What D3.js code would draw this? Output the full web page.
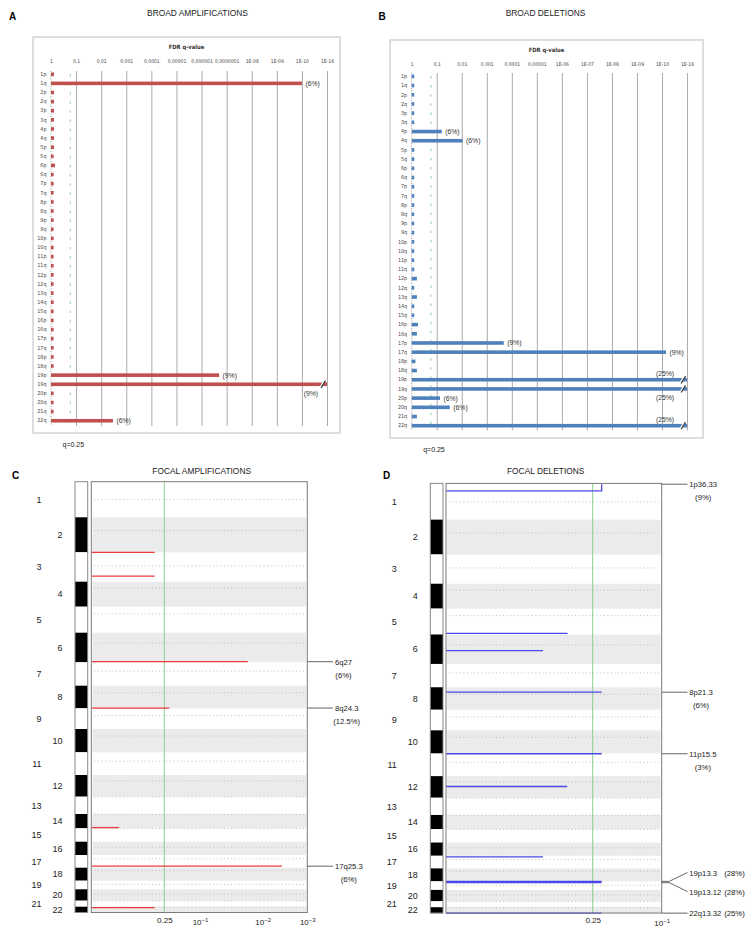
<!DOCTYPE html>
<html><head><meta charset="utf-8">
<script src="https://cdn.jsdelivr.net/npm/d3@7"></script>
<style>body{margin:0;background:#fff} svg{display:block}</style>
</head><body>
<svg id="c" width="754" height="935"></svg>
<script>
// ---------------- DATA ----------------
const armLabels = ["1p","1q","2p","2q","3p","3q","4p","4q","5p","5q","6p","6q","7p","7q","8p","8q","9p","9q","10p","10q","11p","11q","12p","12q","13q","14q","15q","16p","16q","17p","17q","18p","18q","19p","19q","20p","20q","21q","22q"];
const qTickNegLog = [0,1,2,3,4,5,6,7,8,9,10,16];
const ampTickLabels = ["1","0,1","0,01","0,001","0,0001","0,00001","0,000001","0,0000001","1E-08","1E-09","1E-10","1E-16"];
const delTickLabels = ["1","0,1","0,01","0,001","0,0001","0,00001","1E-06","1E-07","1E-08","1E-09","1E-10","1E-16"];
// broad amplification FDR q-values (per arm)
const broadAmpQ = [0.76,1e-10,0.76,0.76,0.76,0.76,0.76,0.76,0.76,0.79,0.69,0.79,0.79,0.79,0.79,0.79,0.79,0.79,0.79,0.79,0.79,0.79,0.79,0.79,0.79,0.79,0.79,0.79,0.79,0.79,0.79,0.79,0.79,2e-7,1e-25,0.79,0.79,0.79,0.0034];
const broadAmpPct = ["","(6%)","","","","","","","","","","","","","","","","","","","","","","","","","","","","","","","","(9%)","(9%)","","","","(6%)"];
// broad deletion FDR q-values (per arm)
const broadDelQ = [0.79,0.79,0.79,0.79,0.79,0.79,0.063,0.0093,0.79,0.79,0.79,0.79,0.79,0.79,0.79,0.79,0.79,0.79,0.79,0.79,0.79,0.79,0.62,0.79,0.62,0.79,0.79,0.56,0.62,2.1e-4,1.1e-11,0.71,0.62,1e-25,1e-25,0.074,0.03,0.62,1e-25];
const broadDelPct = ["","","","","","","(6%)","(6%)","","","","","","","","","","","","","","","","","","","","","","(9%)","(9%)","","","(25%)","(25%)","(6%)","(6%)","","(25%)"];
const qCutoffLabel = "q=0.25";
const qCutoffLine = 0.17; // position of the dashed cutoff as drawn in the source

// focal panels
const chromosomes = d3.range(1,23);
const chromSpan = [356,350,294,250,260,296,234,226,207,233,227,217,173,143,134,133,127,130,86,114,60,60];
const centromereFrac = [0.50,0.38,0.46,0.26,0.27,0.35,0.38,0.31,0.35,0.30,0.39,0.27,0.02,0.02,0.02,0.40,0.30,0.22,0.45,0.44,0.05,0.05];
const focalThresholdQ = 0.25;
const focalAmpTickQ = [0.25,0.1,0.01,0.001];
const focalDelTickQ = [0.25,0.1];
// focal amplification peaks
const ampChr   = [3,3,6,8,14,17,22];
const ampPos   = [0.0,0.81,0.98,0.99,0.95,0.88,0.17];
const ampQ     = [0.30,0.30,0.0173,0.22,0.59,0.0037,0.30];
const ampLabel = ["","","6q27","8q24.3","","17q25.3",""];
const ampPct   = ["","","(6%)","(12.5%)","","(6%)",""];
// focal deletion peaks
const delChr    = [1,5,6,8,11,12,17,19,19,22];
const delPos    = [0.0,0.96,0.55,0.22,0.01,0.48,0.08,0.0,0.16,0.99];
const delPosEnd = [0.19,0.96,0.55,0.22,0.01,0.48,0.08,0.0,0.16,0.99];
const delQ      = [0.222,0.317,0.40,0.222,0.222,0.318,0.40,0.222,0.222,0.222];
const delLabel  = ["1p36.33","","","8p21.3","11p15.5","","","19p13.3","19p13.12","22q13.32"];
const delPct    = ["(9%)","","","(6%)","(3%)","","","(28%)","(28%)","(25%)"];

// ---------------- DRAW ----------------
const svg = d3.select("#c");
const SANS = "'Liberation Sans', Arial, Helvetica, sans-serif";
const NARROW = "'DejaVu Sans Condensed','Liberation Sans Narrow','Arial Narrow',sans-serif";

function txt(g, x, y, s, size, opts={}) {
  return g.append("text").attr("x",x).attr("y",y).attr("font-family",opts.family||SANS)
    .attr("font-size",size).attr("font-weight",opts.weight||"normal")
    .attr("text-anchor",opts.anchor||"start").attr("fill",opts.fill||"#222").text(s);
}

// panel letters & titles
txt(svg,9,19.5,"A",10,{weight:"bold",fill:"#000"});
txt(svg,378.5,19.5,"B",10,{weight:"bold",fill:"#000"});
txt(svg,12,478.5,"C",10,{weight:"bold",fill:"#000"});
txt(svg,383,478.5,"D",10,{weight:"bold",fill:"#000"});
txt(svg,197.5,16,"BROAD AMPLIFICATIONS",8.4,{anchor:"middle"});
txt(svg,545.5,16,"BROAD DELETIONS",8.4,{anchor:"middle"});
txt(svg,201.7,474,"FOCAL AMPLIFICATIONS",8.4,{anchor:"middle"});
txt(svg,545.7,474.3,"FOCAL DELETIONS",8.4,{anchor:"middle"});

function broadPanel(p) {
  const g = svg.append("g");
  g.append("rect").attr("x",p.box[0]).attr("y",p.box[1]).attr("width",p.box[2]-p.box[0]).attr("height",p.box[3]-p.box[1])
    .attr("fill","#fff").attr("stroke","#d6d6d6").attr("stroke-width",1.6);
  const x = d3.scaleLinear().domain(qTickNegLog).range(qTickNegLog.map((d,i)=>p.x0+i*p.step)).clamp(true);
  const y = d3.scaleBand().domain(armLabels).range([p.rowTop,p.rowBottom]);
  const maxNL = qTickNegLog[qTickNegLog.length-1];
  txt(g,(p.box[0]+p.box[2])/2,p.titleY,"FDR q-value",5.8,{anchor:"middle",weight:"bold",family:NARROW,fill:"#333"});
  const ax = g.append("g").attr("transform",`translate(0,${p.tickY})`)
    .call(d3.axisTop(x).tickValues(qTickNegLog).tickFormat((d,i)=>p.tickLabels[i]).tickSize(0).tickPadding(0));
  ax.select(".domain").remove();
  ax.selectAll("text").attr("font-family",NARROW).attr("font-size",5).attr("fill","#444");
  const gr = g.append("g").attr("transform",`translate(0,${p.gridTop})`)
    .call(d3.axisBottom(x).tickValues(qTickNegLog.slice(1)).tickSize(p.gridBottom-p.gridTop).tickFormat(""));
  gr.select(".domain").remove();
  gr.selectAll("line").attr("stroke","#ababab").attr("stroke-width",1);
  g.append("line").attr("x1",p.x0).attr("x2",p.x0).attr("y1",p.gridTop).attr("y2",p.gridBottom)
    .attr("stroke","#9a9a9a").attr("stroke-dasharray","1,1.5");
  const xc = x(-Math.log10(qCutoffLine));
  g.append("line").attr("x1",xc).attr("x2",xc).attr("y1",p.gridTop+3).attr("y2",p.gridBottom)
    .attr("stroke","#8fcf8f").attr("stroke-width",1).attr("stroke-dasharray","2.5,6.6");
  txt(g,xc+3,p.box[3]+13.5,qCutoffLabel,7,{anchor:"middle"});
  const ya = g.append("g").attr("transform",`translate(${p.x0},0)`).call(d3.axisLeft(y).tickSize(0).tickPadding(4.5));
  ya.select(".domain").remove();
  ya.selectAll("text").attr("font-family",NARROW).attr("font-size",5.4).attr("fill","#444");
  const rows = armLabels.map((a,i)=>({arm:a,nl:-Math.log10(p.q[i]),pct:p.pct[i],prevPct:i>0?p.pct[i-1]:""}));
  const bh = 3.6;
  g.selectAll(".bar").data(rows).join("rect").attr("class","bar")
    .attr("x",p.x0).attr("y",d=>y(d.arm)+y.bandwidth()/2-bh/2)
    .attr("width",d=>x(Math.min(d.nl,maxNL))-p.x0).attr("height",bh).attr("fill",p.color);
  const broken = rows.filter(d=>d.nl>maxNL);
  broken.forEach(d=>{
    const bx = x(maxNL)-4.5, by = y(d.arm)+y.bandwidth()/2;
    g.append("line").attr("x1",bx-2.2).attr("y1",by+3.6).attr("x2",bx+2.2).attr("y2",by-3.6).attr("stroke","#fff").attr("stroke-width",2.2);
    g.append("line").attr("x1",bx-1.4).attr("y1",by+3.6).attr("x2",bx+3).attr("y2",by-3.6).attr("stroke","#333").attr("stroke-width",1.2);
  });
  rows.filter(d=>d.pct).forEach(d=>{
    const cy = y(d.arm)+y.bandwidth()/2;
    if (d.nl>maxNL) {
      const dy = d.prevPct ? 9 : -6.5;
      txt(g,x(maxNL)-p.brokenOff,cy+dy+2.4,d.pct,6.8,{anchor:"end",fill:"#333"});
    } else {
      txt(g,x(d.nl)+3.5,cy+2.4,d.pct,6.8,{fill:"#333"});
    }
  });
}

broadPanel({box:[33,37,340,433],x0:51,step:25.09,rowTop:69.7,rowBottom:425.3,gridTop:71,gridBottom:426,
  titleY:49,tickY:63,tickLabels:ampTickLabels,q:broadAmpQ,pct:broadAmpPct,color:"#c0504d",brokenOff:9});
broadPanel({box:[390,40,703,438],x0:411.7,step:25.03,rowTop:71.8,rowBottom:430.3,gridTop:73,gridBottom:430.5,
  titleY:52,tickY:66,tickLabels:delTickLabels,q:broadDelQ,pct:broadDelPct,color:"#4f81bd",brokenOff:13});

function focalPanel(p) {
  const g = svg.append("g");
  const total = d3.sum(chromSpan);
  const starts = chromSpan.map((d,i)=>d3.sum(chromSpan.slice(0,i)));
  const y = d3.scaleLinear().domain([0,total]).range(p.yRange);
  const x = d3.scaleLinear().domain(p.xDomain).range(p.xRange).clamp(true);
  const gy = (c,f)=>y(starts[c-1]+f*chromSpan[c-1]);
  const bt = p.boxTop, bb = p.boxBottom;
  g.selectAll(".band").data(chromosomes.filter(c=>c%2===0)).join("rect")
    .attr("x",p.boxL+1).attr("width",p.boxR-p.boxL-2).attr("y",c=>gy(c,0)).attr("height",c=>gy(c,1)-gy(c,0)).attr("fill","#ebebeb");
  g.selectAll(".cen").data(chromosomes).join("line")
    .attr("x1",p.boxL+3).attr("x2",p.boxR-3).attr("y1",c=>gy(c,centromereFrac[c-1])).attr("y2",c=>gy(c,centromereFrac[c-1]))
    .attr("stroke","#b8b8b8").attr("stroke-width",0.9).attr("stroke-dasharray","1,2.6");
  const xt = x(-Math.log10(focalThresholdQ));
  g.append("line").attr("x1",xt).attr("x2",xt).attr("y1",bt).attr("y2",bb).attr("stroke","#8ccf8c").attr("stroke-width",1);
  const peaks = p.chr.map((c,i)=>({chr:c,y0:gy(c,p.pos[i]),y1:gy(c,p.posEnd[i]),nl:-Math.log10(p.q[i]),label:p.label[i],pct:p.pct[i]}));
  g.selectAll(".peak").data(peaks).join("path")
    .attr("d",d=>`M${p.boxL},${d.y1}H${x(d.nl)}V${d.y0}`)
    .attr("fill","none").attr("stroke",p.color).attr("stroke-width",1.3);
  g.append("rect").attr("x",p.boxL).attr("y",bt).attr("width",p.boxR-p.boxL).attr("height",bb-bt)
    .attr("fill","none").attr("stroke","#7a7a7a").attr("stroke-width",1);
  // ideogram
  g.selectAll(".ideo").data(chromosomes).join("rect")
    .attr("x",p.ideoX).attr("width",p.ideoW).attr("y",c=>gy(c,0)).attr("height",c=>gy(c,1)-gy(c,0))
    .attr("fill",c=>c%2?"#fff":"#000");
  g.append("rect").attr("x",p.ideoX).attr("y",bt).attr("width",p.ideoW).attr("height",bb-bt)
    .attr("fill","none").attr("stroke","#888").attr("stroke-width",1);
  g.selectAll(".clab").data(chromosomes).join("text")
    .attr("x",c=>c%2? p.ideoX-33.5 : p.ideoX-12.5).attr("y",c=>(gy(c,0)+gy(c,1))/2+3.2)
    .attr("text-anchor","end").attr("font-family",SANS).attr("font-size",9).attr("fill","#222").text(c=>c);
  // x axis
  const tickNL = p.tickQ.map(q=>-Math.log10(q));
  const ax = g.append("g").attr("transform",`translate(0,${bb})`)
    .call(d3.axisBottom(x).tickValues(tickNL).tickSize(0).tickPadding(4.5).tickFormat(""));
  ax.select(".domain").remove();
  ax.selectAll(".tick text").each(function(d,i){
    const q = p.tickQ[i]; const t = d3.select(this).attr("font-family",SANS).attr("font-size",8).attr("fill","#222");
    if (q===focalThresholdQ) { t.text(String(q)); }
    else {
      const e = Math.round(Math.log10(q));
      t.attr("dy","1.0em");
      t.append("tspan").text("10");
      t.append("tspan").attr("dy","-0.45em").attr("font-size",6).text("\u2212"+Math.abs(e));
    }
  });
  // peak labels
  const lab = peaks.filter(d=>d.label).sort((a,b)=>a.y0-b.y0);
  lab.forEach(d=>{d.ly=d.y0; d.inline=false;});
  for (let i=0;i<lab.length-1;i++){
    if (lab[i+1].y0-lab[i].y0<10){
      const m=(lab[i].y0+lab[i+1].y0)/2; lab[i].ly=m-9.5; lab[i+1].ly=m+9.5; lab[i].inline=lab[i+1].inline=true; lab[i].elbow=lab[i+1].elbow=true;
    }
  }
  lab.forEach(d=>{ if (d.y0>bb-14) d.inline=true; });
  const R = p.boxR;
  lab.forEach(d=>{
    const path = d.elbow ? `M${R},${d.y0}H${R+7.6}L${R+25.8},${d.ly}` : `M${R},${d.y0}H${R+25.8}`;
    g.append("path").attr("d",path).attr("fill","none").attr("stroke","#555").attr("stroke-width",0.9);
    const t = txt(g,R+27.6,d.ly+3,d.label,7.7,{fill:"#222"});
    if (d.inline) {
      txt(g,R+62.5,d.ly+3,d.pct,7.7,{fill:"#222"});
    } else {
      const w = t.node().getComputedTextLength();
      txt(g,R+27.6+w/2,d.ly+16,d.pct,7.7,{anchor:"middle",fill:"#222"});
    }
  });
}

focalPanel({ideoX:75,ideoW:12.7,boxL:91.3,boxR:307.3,boxTop:481.7,boxBottom:912.5,yRange:[481.7,912.7],
  xDomain:[0,-Math.log10(0.25),1,2,3],xRange:[91.3,164.3,200,262.7,307.3],tickQ:focalAmpTickQ,
  chr:ampChr,pos:ampPos,posEnd:ampPos,q:ampQ,label:ampLabel,pct:ampPct,color:"#ee3b3b"});
focalPanel({ideoX:430.3,ideoW:12.7,boxL:446,boxR:661.7,boxTop:483.4,boxBottom:913,yRange:[484.2,913.2],
  xDomain:[0,-Math.log10(0.25),1],xRange:[446,592.7,661.7],tickQ:focalDelTickQ,
  chr:delChr,pos:delPos,posEnd:delPosEnd,q:delQ,label:delLabel,pct:delPct,color:"#4848e8"});
</script>
</body></html>
